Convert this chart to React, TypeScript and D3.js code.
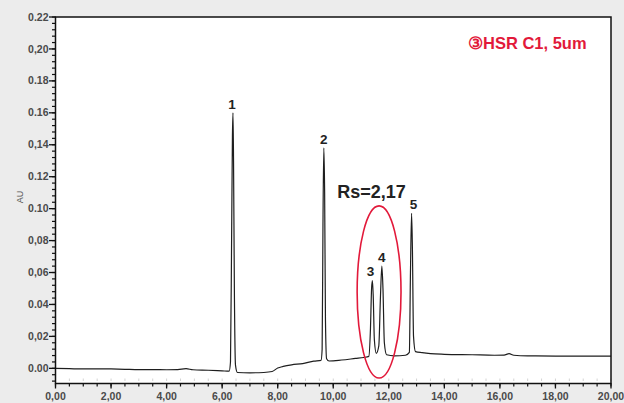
import React from "react";
import * as d3 from "d3";

// Chromatogram trace: retention time (min) and absorbance (AU)
const traceTime = [
  0, 0.5, 1.0, 1.5, 2.0, 2.5, 3.0, 3.5, 4.0, 4.4, 4.7, 4.95, 5.5, 6.0, 6.25,
  6.3, 6.34, 6.37, 6.39, 6.41, 6.44, 6.48, 6.55, 7.0, 7.5, 7.8, 8.0, 8.2, 8.5,
  8.9, 9.3, 9.56, 9.6, 9.63, 9.66, 9.69, 9.72, 9.76, 9.85, 10.3, 10.8, 11.1,
  11.28, 11.34, 11.38, 11.41, 11.44, 11.48, 11.55, 11.64, 11.7, 11.75, 11.79,
  11.84, 11.92, 12.2, 12.6, 12.74, 12.78, 12.82, 12.85, 12.89, 12.96, 13.2,
  13.5, 14.0, 15.0, 15.8, 16.15, 16.33, 16.5, 17.0, 18.0, 19.0, 20.0,
];
const traceAU = [
  0.0, -0.0002, -0.0004, -0.0003, -0.0004, -0.0006, -0.0008, -0.0008, -0.0009,
  -0.0008, -0.0002, -0.0009, -0.0012, -0.0016, -0.0018,
  0.004, 0.08, 0.145, 0.16, 0.13, 0.05, 0.002, -0.0026, -0.0028, -0.0026,
  -0.002, 0.0002, 0.0012, 0.0022,
  0.003, 0.0045, 0.005, 0.012, 0.09, 0.138, 0.11, 0.03, 0.006, 0.0046, 0.0052,
  0.0062, 0.0068,
  0.0075, 0.025, 0.05, 0.055, 0.045, 0.018, 0.0094, 0.014, 0.045, 0.064, 0.05,
  0.016, 0.0085, 0.0078, 0.0082, 0.01, 0.06, 0.097, 0.075, 0.02, 0.0105, 0.0098,
  0.0092, 0.0088, 0.0085, 0.0082, 0.0083, 0.0092, 0.0082, 0.0078, 0.0077,
  0.0077, 0.0077,
];

// Peak numbers with their apex positions
const peakNames = ["1", "2", "3", "4", "5"];
const peakTime = [6.39, 9.66, 11.41, 11.75, 12.82];
const peakAU = [0.16, 0.138, 0.055, 0.064, 0.097];

// Axis ticks
const xTicks = [0, 2, 4, 6, 8, 10, 12, 14, 16, 18, 20];
const xTickLabels = ["0,00", "2,00", "4,00", "6,00", "8,00", "10,00", "12,00", "14,00", "16,00", "18,00", "20,00"];
const yTicks = [0, 0.02, 0.04, 0.06, 0.08, 0.1, 0.12, 0.14, 0.16, 0.18, 0.2, 0.22];
const yTickLabels = ["0.00", "0,02", "0.04", "0,06", "0,08", "0.10", "0.12", "0,14", "0.16", "0.18", "0,20", "0.22"];

// Resolution annotation: ellipse around peaks 3 and 4 (centre, half-widths)
const rsLabel = "Rs=2,17";
const rsEllipse = { t: 11.65, au: 0.0478, dt: 0.79, dau: 0.0539 };
const columnLabel = "③HSR C1, 5um";

const W = 624;
const H = 403;
const FONT = "'Liberation Sans', Arial, Helvetica, sans-serif";

export default function App() {
  const x = d3.scaleLinear().domain([0, 20]).range([55.5, 611]);
  const y = d3.scaleLinear().domain([-0.0095, 0.22]).range([383.5, 17]);

  const pts: [number, number][] = traceTime.map((t, i) => [t, traceAU[i]]);
  const line = d3
    .line<[number, number]>()
    .x((d) => x(d[0]))
    .y((d) => y(d[1]))
    .curve(d3.curveMonotoneX);

  const xMinor = d3.range(0, 20.001, 0.5);
  const yMinor = d3.range(-0.008, 0.2201, 0.004);

  const [x0, x1] = x.range();
  const [yb, yt] = y.range();

  const red = "#e2193a";

  return (
    <svg
      width={W}
      height={H}
      style={{ position: "absolute", left: 0, top: 0 }}
      fontFamily={FONT}
    >
      <rect x={0} y={0} width={W} height={H} fill="#ececec" />
      <rect x={x0} y={yt} width={x1 - x0} height={yb - yt} fill="#ffffff" />

      {/* faint inner tick marks along the bottom */}
      {xMinor.map((t, i) => (
        <line key={"fi" + i} x1={x(t)} x2={x(t)} y1={yb - 5} y2={yb - 2.5} stroke="#d4d4d4" strokeWidth={1} />
      ))}

      {/* trace */}
      <path d={line(pts) || ""} fill="none" stroke="#1e1e1e" strokeWidth={1.2} strokeLinejoin="round" />

      {/* frame */}
      <rect x={x0} y={yt} width={x1 - x0} height={yb - yt} fill="none" stroke="#111" strokeWidth={1.5} />

      {/* y axis ticks */}
      {yMinor.map((v, i) => (
        <line key={"ym" + i} x1={x0 - 3.5} x2={x0} y1={y(v)} y2={y(v)} stroke="#111" strokeWidth={1.2} />
      ))}
      {yTicks.map((v, i) => (
        <g key={"yt" + i}>
          <line x1={x0 - 6.5} x2={x0} y1={y(v)} y2={y(v)} stroke="#111" strokeWidth={1.3} />
          <text x={x0 - 7} y={y(v) + 3.6} textAnchor="end" fontSize={10.5} fill="#4a4a4a" fontWeight={700}>
            {yTickLabels[i]}
          </text>
        </g>
      ))}

      {/* x axis ticks */}
      {xMinor.map((t, i) => (
        <line key={"xm" + i} x1={x(t)} x2={x(t)} y1={yb} y2={yb + 3} stroke="#111" strokeWidth={1.2} />
      ))}
      {xTicks.map((t, i) => (
        <g key={"xt" + i}>
          <line x1={x(t)} x2={x(t)} y1={yb} y2={yb + 5} stroke="#111" strokeWidth={1.3} />
          <text x={x(t)} y={yb + 16} textAnchor="middle" fontSize={10.5} fill="#4a4a4a" fontWeight={700}>
            {xTickLabels[i]}
          </text>
        </g>
      ))}

      <text
        transform={`translate(23,197) rotate(-90)`}
        textAnchor="middle"
        fontSize={9}
        fill="#555"
      >
        AU
      </text>

      {/* peak numbers */}
      {peakNames.map((n, i) => (
        <text
          key={"pk" + i}
          x={x(peakTime[i]) + (i === 0 ? -1 : i === 2 ? -2 : i === 4 ? 2 : 0)}
          y={y(peakAU[i]) - 4}
          textAnchor="middle"
          fontSize={13.5}
          fontWeight={700}
          fill="#222"
        >
          {n}
        </text>
      ))}

      {/* resolution ellipse and label */}
      <ellipse
        cx={x(rsEllipse.t)}
        cy={y(rsEllipse.au)}
        rx={x(rsEllipse.t + rsEllipse.dt) - x(rsEllipse.t)}
        ry={y(0) - y(rsEllipse.dau)}
        fill="none"
        stroke={red}
        strokeWidth={1.6}
      />
      <text x={371.5} y={198} textAnchor="middle" fontSize={18} fontWeight={700} fill="#222">
        {rsLabel}
      </text>

      <text x={468} y={49} fontSize={16.5} fontWeight={700} fill={red}>
        {columnLabel}
      </text>
    </svg>
  );
}
